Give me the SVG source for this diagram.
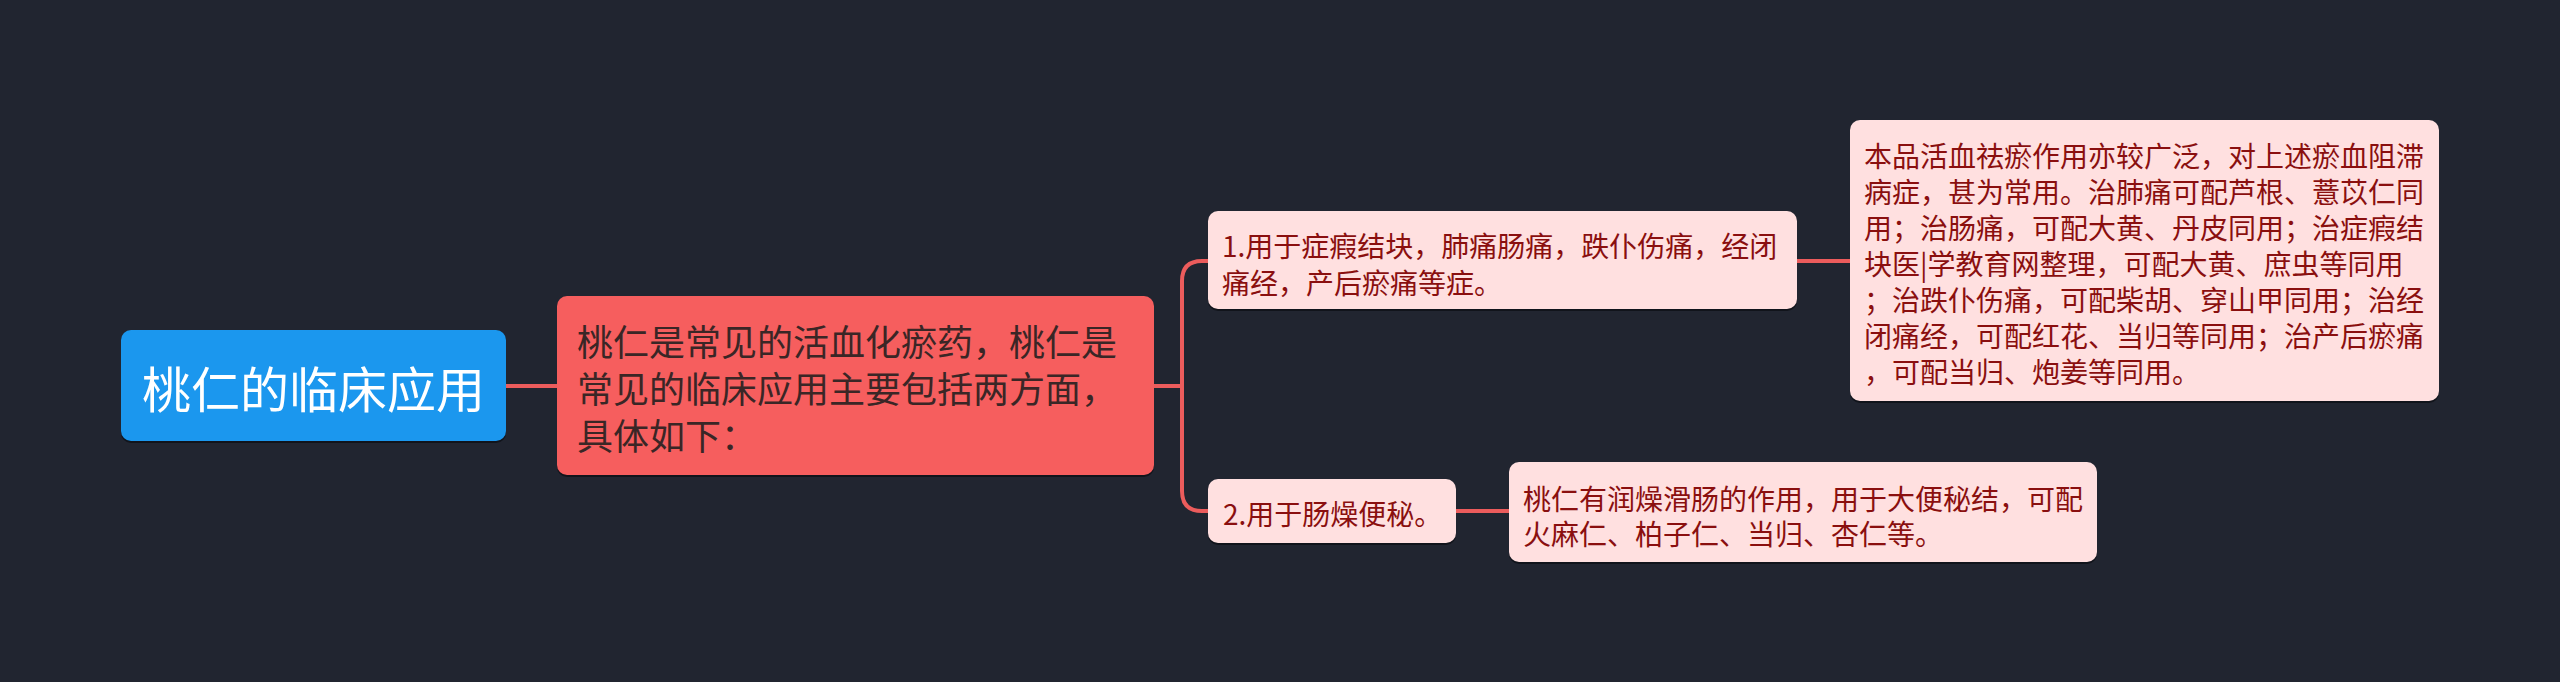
<svg xmlns="http://www.w3.org/2000/svg" width="2560" height="682" viewBox="0 0 2560 682">
<style>
.bg{fill:#212530}
.sh{fill:#0e1016;opacity:0.8}
.root{fill:#1b97ee}
.main{fill:#f65e5e}
.sub{fill:#ffe0e0}
.conn{fill:none;stroke:#ec5c5c;stroke-width:4;stroke-linecap:round}
text{font-family:"Microsoft YaHei","Noto Sans CJK SC","Noto Sans",sans-serif;dominant-baseline:central}
.t-root{font-size:49px;fill:#ffffff}
.t-main{font-size:36px;fill:#3a2626}
.t-sub{font-size:28px;fill:#8a0f0f}
</style>
<rect class="bg" x="0" y="0" width="2560" height="682"/>
<g id="connectors">
<path class="conn" d="M506 386 H557"/>
<path class="conn" d="M1154 386 H1182"/>
<path class="conn" d="M1208 261 H1202 Q1182 261 1182 281 V491 Q1182 511 1202 511 H1208"/>
<path class="conn" d="M1797 261 H1850"/>
<path class="conn" d="M1456 511 H1509"/>
</g>
<g id="root">
<rect class="sh" x="121" y="332" width="385" height="111" rx="10"/>
<rect class="root" x="121" y="330" width="385" height="111" rx="10"/>
<text class="t-root" x="313.5" y="386" text-anchor="middle">桃仁的临床应用</text>
</g>
<g id="main">
<rect class="sh" x="557" y="298" width="597" height="179" rx="10"/>
<rect class="main" x="557" y="296" width="597" height="179" rx="10"/>
<text class="t-main" x="577" y="340">桃仁是常见的活血化瘀药，桃仁是</text>
<text class="t-main" x="577" y="387">常见的临床应用主要包括两方面，</text>
<text class="t-main" x="577" y="434">具体如下：</text>
</g>
<g id="branch1">
<rect class="sh" x="1208" y="213" width="589" height="98" rx="10"/>
<rect class="sub" x="1208" y="211" width="589" height="98" rx="10"/>
<text class="t-sub" x="1222" y="245">1.用于症瘕结块，肺痛肠痛，跌仆伤痛，经闭</text>
<text class="t-sub" x="1222" y="282">痛经，产后瘀痛等症。</text>
</g>
<g id="branch2">
<rect class="sh" x="1208" y="481" width="248" height="64" rx="10"/>
<rect class="sub" x="1208" y="479" width="248" height="64" rx="10"/>
<text class="t-sub" x="1223" y="513">2.用于肠燥便秘。</text>
</g>
<g id="leaf1">
<rect class="sh" x="1850" y="122" width="589" height="281" rx="10"/>
<rect class="sub" x="1850" y="120" width="589" height="281" rx="10"/>
<text class="t-sub" x="1864" y="155">本品活血祛瘀作用亦较广泛，对上述瘀血阻滞</text>
<text class="t-sub" x="1864" y="191">病症，甚为常用。治肺痛可配芦根、薏苡仁同</text>
<text class="t-sub" x="1864" y="227">用；治肠痛，可配大黄、丹皮同用；治症瘕结</text>
<text class="t-sub" x="1864" y="263">块医|学教育网整理，可配大黄、庶虫等同用</text>
<text class="t-sub" x="1864" y="299">；治跌仆伤痛，可配柴胡、穿山甲同用；治经</text>
<text class="t-sub" x="1864" y="335">闭痛经，可配红花、当归等同用；治产后瘀痛</text>
<text class="t-sub" x="1864" y="371">，可配当归、炮姜等同用。</text>
</g>
<g id="leaf2">
<rect class="sh" x="1509" y="464" width="588" height="100" rx="10"/>
<rect class="sub" x="1509" y="462" width="588" height="100" rx="10"/>
<text class="t-sub" x="1523" y="498">桃仁有润燥滑肠的作用，用于大便秘结，可配</text>
<text class="t-sub" x="1523" y="533">火麻仁、柏子仁、当归、杏仁等。</text>
</g>
</svg>
